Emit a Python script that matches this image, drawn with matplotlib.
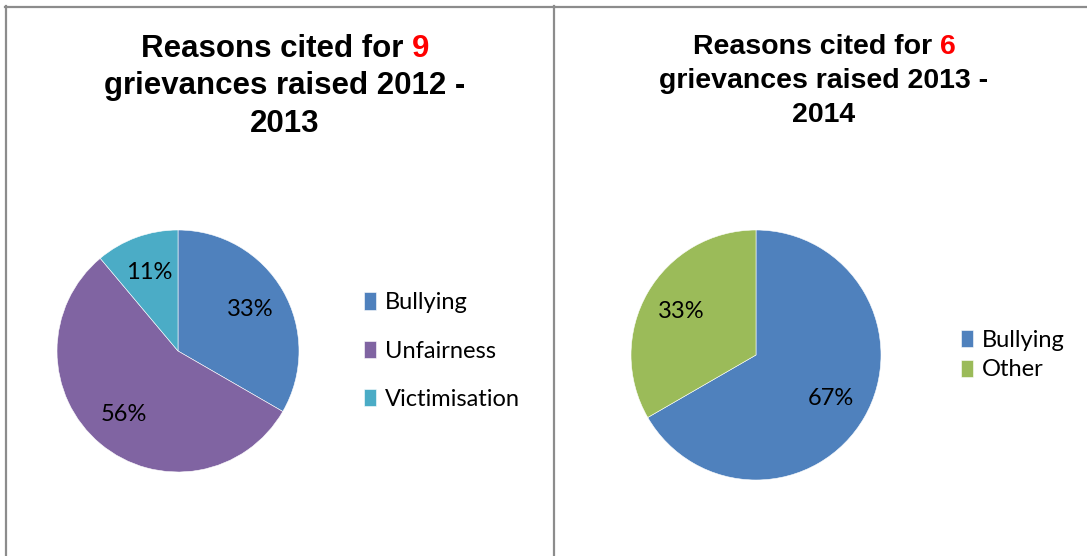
import matplotlib
matplotlib.use('Agg')
import matplotlib.pyplot as plt
from matplotlib.lines import Line2D

W, H = 1087, 556

# grievances 2012 - 2013
labels_1 = ['Bullying', 'Unfairness', 'Victimisation']
counts_1 = [3, 5, 1]
colors_1 = ['#4F81BD', '#8064A2', '#4BACC6']
total_1 = '9'

# grievances 2013 - 2014
labels_2 = ['Bullying', 'Other']
counts_2 = [4, 2]
colors_2 = ['#4F81BD', '#9BBB59']
total_2 = '6'

fig = plt.figure(figsize=(W / 100, H / 100), dpi=100)
fig.patch.set_facecolor('white')


def fx(x):
    return x / W


def fy(y):
    return 1 - y / H


# panel borders
border = dict(color='#8c8c8c', lw=1.6, transform=fig.transFigure)
fig.add_artist(Line2D([fx(5), 1], [fy(6.5), fy(6.5)], **border))
fig.add_artist(Line2D([fx(5.5), fx(5.5)], [fy(6), 0], **border))
fig.add_artist(Line2D([fx(553.5), fx(553.5)], [fy(6), 0], **border))


def draw_pie(cx, cy, r, counts, colors):
    ax = fig.add_axes([fx(cx - r), fy(cy + r), 2 * r / W, 2 * r / H])
    wedges, _, autotexts = ax.pie(counts, colors=colors, startangle=90, counterclock=False,
                                  autopct='%1.0f%%', pctdistance=0.69,
                                  wedgeprops=dict(edgecolor='white', linewidth=0.4),
                                  textprops=dict(family='Lato', fontsize=17, color='black'))
    ax.set_xlim(-1, 1)
    ax.set_ylim(-1, 1)
    ax.axis('off')
    return wedges


def draw_title(cx, baseline, gap, size, n, years):
    kw = dict(family='Liberation Sans', weight='bold', fontsize=size, va='baseline')
    r = fig.canvas.get_renderer()
    probe = fig.text(0, 0, 'Reasons cited for ' + n, **kw)
    w = probe.get_window_extent(r).width
    probe.remove()
    fig.text(fx(cx - w / 2), fy(baseline), 'Reasons cited for', ha='left', color='black', **kw)
    fig.text(fx(cx + w / 2), fy(baseline), n, ha='right', color='#FF0000', **kw)
    fig.text(fx(cx), fy(baseline + gap), 'grievances raised ' + years[0] + ' -', ha='center', **kw)
    fig.text(fx(cx), fy(baseline + 2 * gap), years[1], ha='center', **kw)


w1 = draw_pie(178, 351, 121, counts_1, colors_1)
w2 = draw_pie(756, 355, 125, counts_2, colors_2)

draw_title(285, 57, 37.5, 22.5, total_1, ('2012', '2013'))
draw_title(824, 54, 34, 20.5, total_2, ('2013', '2014'))

leg_font = dict(family='Lato', size=17)
fig.legend(w1, labels_1, loc='center left', bbox_to_anchor=(fx(364), fy(351)),
           frameon=False, prop=leg_font, handlelength=0.5, handleheight=0.75,
           handletextpad=0.4, labelspacing=1.15, borderpad=0, borderaxespad=0)
fig.legend(w2, labels_2, loc='center left', bbox_to_anchor=(fx(961), fy(355)),
           frameon=False, prop=leg_font, handlelength=0.5, handleheight=0.75,
           handletextpad=0.4, labelspacing=0.38, borderpad=0, borderaxespad=0)

fig.savefig('out.png', dpi=100)
